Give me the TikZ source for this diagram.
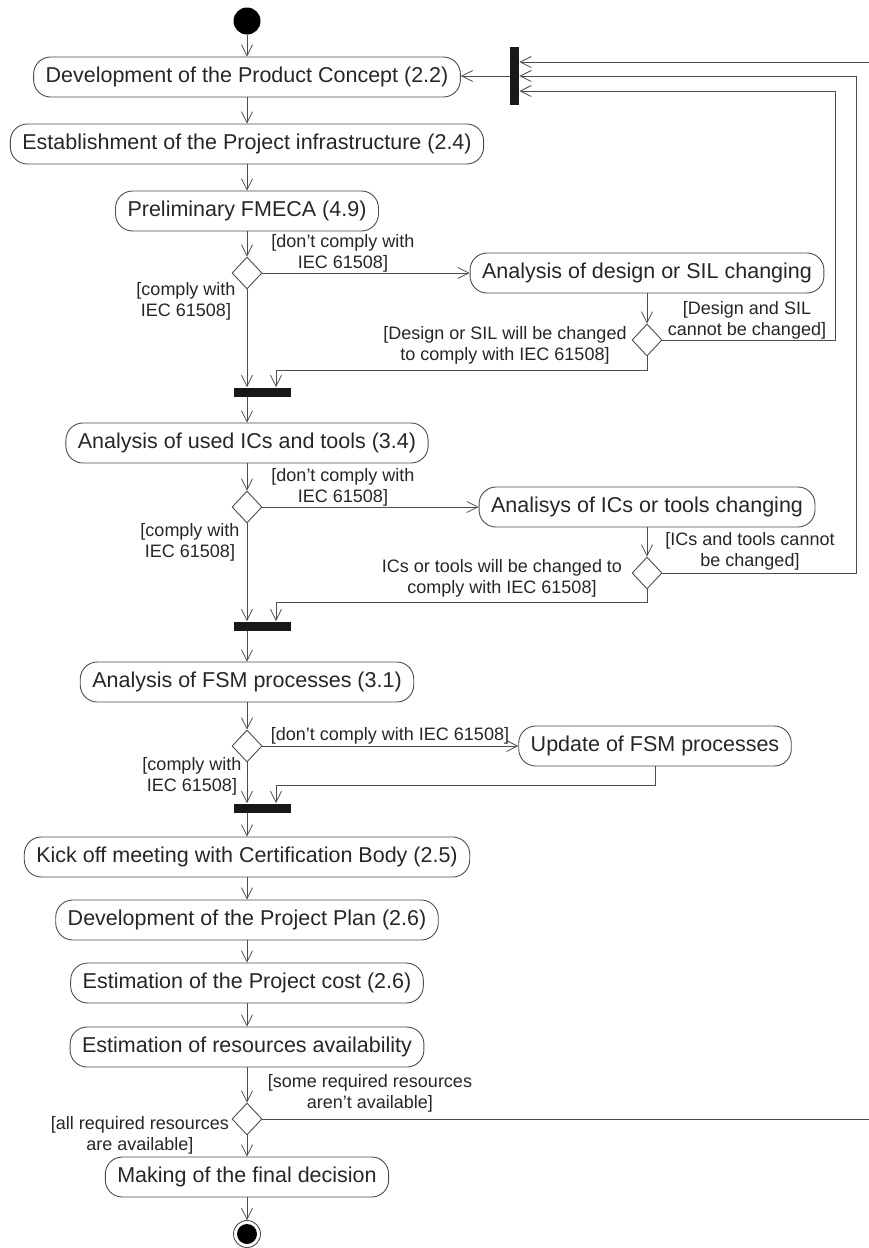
\documentclass[tikz,border=0pt]{standalone}
\usepackage{fontspec}
\setmainfont{Liberation Sans}
\usetikzlibrary{shapes.geometric,arrows.meta}

\begin{document}
\begin{tikzpicture}[
x=1pt, y=-1pt,
line width=0.9pt,
flow/.style={draw=black!70, -{Straight Barb[length=11pt,width=11pt,line width=0.8pt]}},
action/.style={draw=black!70, rectangle, rounded corners=17pt, minimum height=40pt, inner xsep=12pt, text=black!85, font=\fontsize{21.5}{24}\selectfont},
decision/.style={draw=black!70, diamond, minimum width=30pt, minimum height=32pt, inner sep=0pt},
bar/.style={fill=black!90, inner sep=0pt, minimum width=57pt, minimum height=9pt},
guard/.style={align=center, inner sep=0pt, text=black!85, font=\fontsize{18}{21}\selectfont}
]
\useasboundingbox (0,0) rectangle (868,1248);

\node[circle, fill=black, minimum size=27pt, inner sep=0pt] (start) at (247,21) {};
\node[action] (concept) at (247,77) {Development of the Product Concept (2.2)};
\node[action] (infra) at (247,144) {Establishment of the Project infrastructure (2.4)};
\node[action] (fmeca) at (247,211) {Preliminary FMECA (4.9)};
\node[decision] (d1) at (247,273) {};
\node[action] (design) at (647,273) {Analysis of design or SIL changing};
\node[decision] (d2) at (647,340) {};
\node[bar] (j1) at (262,392) {};
\node[action] (ics) at (247,443) {Analysis of used ICs and tools (3.4)};
\node[decision] (d3) at (247,507) {};
\node[action] (tools) at (647,507) {Analisys of ICs or tools changing};
\node[decision] (d4) at (647,573) {};
\node[bar] (j2) at (262,626) {};
\node[action] (fsm) at (247,682) {Analysis of FSM processes (3.1)};
\node[decision] (d5) at (247,746) {};
\node[action] (update) at (655,746) {Update of FSM processes};
\node[bar] (j3) at (262,808) {};
\node[action] (kickoff) at (247,857) {Kick off meeting with Certification Body (2.5)};
\node[action] (plan) at (247,920) {Development of the Project Plan (2.6)};
\node[action] (cost) at (247,983) {Estimation of the Project cost (2.6)};
\node[action] (res) at (247,1047) {Estimation of resources availability};
\node[decision] (d6) at (247,1119) {};
\node[action] (final) at (247,1177) {Making of the final decision};
\node[circle, draw=black!70, minimum size=27pt, inner sep=0pt,
  path picture={\fill[black] (path picture bounding box.center) circle (10pt);}] (stop) at (247,1234) {};
\node[fill=black!90, inner sep=0pt, minimum width=9pt, minimum height=58pt] (fork) at (514.5,76) {};

\node[guard] (g1a) at (343,253) {[don't comply with\\IEC 61508]};
\node[guard] (g1b) at (186,301) {[comply with\\IEC 61508]};
\node[guard] (g2a) at (747,320) {[Design and SIL\\cannot be changed]};
\node[guard] (g2b) at (505,345) {[Design or SIL will be changed\\to comply with IEC 61508]};
\node[guard] (g3a) at (343,487) {[don't comply with\\IEC 61508]};
\node[guard] (g3b) at (190,542) {[comply with\\IEC 61508]};
\node[guard] (g4a) at (750,551) {[ICs and tools cannot\\be changed]};
\node[guard] (g4b) at (502,578) {ICs or tools will be changed to\\comply with IEC 61508]};
\node[guard] (g5a) at (390,736) {[don't comply with IEC 61508]};
\node[guard] (g5b) at (192,776) {[comply with\\IEC 61508]};
\node[guard] (g6a) at (370,1093) {[some required resources\\aren't available]};
\node[guard] (g6b) at (140,1135) {[all required resources\\are available]};

\coordinate (loopa) at (835,0);
\coordinate (loopb) at (856,0);
\coordinate (loopc) at (872,0);
\coordinate (m1) at (647,370);
\coordinate (m2) at (647,602);
\coordinate (m3) at (655,785);

\draw[flow] (start) -- (concept);
\draw[flow] (concept) -- (infra);
\draw[flow] (infra) -- (fmeca);
\draw[flow] (fmeca) -- (d1);
\draw[flow] (d1.east) -- (design.west);
\draw[flow] (d1.south) -- (d1.south |- j1.north);
\draw[flow] (design) -- (d2);
\draw[flow] (d2.east) -- (d2.east -| loopa) |- ([yshift=-15pt]fork.east);
\draw[flow] (d2.south) -- (m1) -| ([xshift=14pt]j1.north);
\draw[flow] (j1.south -| ics.north) -- (ics.north);
\draw[flow] (ics) -- (d3);
\draw[flow] (d3.east) -- (tools.west);
\draw[flow] (d3.south) -- (d3.south |- j2.north);
\draw[flow] (tools) -- (d4);
\draw[flow] (d4.east) -- (d4.east -| loopb) |- (fork.east);
\draw[flow] (d4.south) -- (m2) -| ([xshift=14pt]j2.north);
\draw[flow] (j2.south -| fsm.north) -- (fsm.north);
\draw[flow] (fsm) -- (d5);
\draw[flow] (d5.east) -- (update.west);
\draw[flow] (d5.south) -- (d5.south |- j3.north);
\draw[flow] (update.south) -- (m3) -| ([xshift=14pt]j3.north);
\draw[flow] (j3.south -| kickoff.north) -- (kickoff.north);
\draw[flow] (kickoff) -- (plan);
\draw[flow] (plan) -- (cost);
\draw[flow] (cost) -- (res);
\draw[flow] (res) -- (d6);
\draw[flow] (d6) -- (final);
\draw[flow] (final) -- (stop);
\draw[flow] (d6.east) -- (d6.east -| loopc) |- ([yshift=14pt]fork.east);
\draw[flow] (fork.west) -- (fork.west -| concept.east);
\end{tikzpicture}
\end{document}
